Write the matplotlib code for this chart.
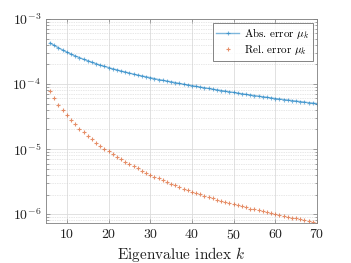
import numpy as np
import matplotlib
matplotlib.use("Agg")
import matplotlib.pyplot as plt
from matplotlib.ticker import LogLocator, NullFormatter, MultipleLocator

plt.rcParams['font.family'] = 'serif'
plt.rcParams['font.serif'] = ['cmr10']
plt.rcParams['mathtext.fontset'] = 'cm'
plt.rcParams['axes.formatter.use_mathtext'] = True
plt.rcParams['axes.unicode_minus'] = False

k = list(range(6, 71))

abs_err = [4.27e-4, 3.91e-4, 3.60e-4, 3.33e-4, 3.09e-4, 2.88e-4, 2.70e-4, 2.55e-4, 2.40e-4, 2.28e-4,
           2.16e-4, 2.05e-4, 1.95e-4, 1.87e-4, 1.79e-4, 1.71e-4, 1.65e-4, 1.58e-4, 1.53e-4, 1.47e-4,
           1.42e-4, 1.37e-4, 1.33e-4, 1.29e-4, 1.25e-4, 1.21e-4, 1.17e-4, 1.14e-4, 1.11e-4, 1.08e-4,
           1.05e-4, 1.02e-4, 9.93e-5, 9.68e-5, 9.44e-5, 9.20e-5, 8.97e-5, 8.75e-5, 8.53e-5, 8.32e-5,
           8.13e-5, 7.94e-5, 7.76e-5, 7.59e-5, 7.41e-5, 7.24e-5, 7.08e-5, 6.92e-5, 6.78e-5, 6.64e-5,
           6.50e-5, 6.37e-5, 6.24e-5, 6.11e-5, 5.98e-5, 5.87e-5, 5.77e-5, 5.66e-5, 5.56e-5, 5.46e-5,
           5.36e-5, 5.26e-5, 5.16e-5, 5.08e-5, 5.00e-5]

rel_err = [7.80e-5, 6.03e-5, 4.84e-5, 3.98e-5, 3.33e-5, 2.81e-5, 2.40e-5, 2.07e-5, 1.81e-5, 1.59e-5,
           1.41e-5, 1.25e-5, 1.12e-5, 1.01e-5, 9.18e-6, 8.36e-6, 7.64e-6, 7.00e-6, 6.43e-6, 5.92e-6,
           5.46e-6, 5.05e-6, 4.68e-6, 4.35e-6, 4.05e-6, 3.78e-6, 3.53e-6, 3.31e-6, 3.11e-6, 2.93e-6,
           2.76e-6, 2.61e-6, 2.47e-6, 2.34e-6, 2.22e-6, 2.11e-6, 2.01e-6, 1.92e-6, 1.83e-6, 1.75e-6,
           1.67e-6, 1.60e-6, 1.54e-6, 1.48e-6, 1.42e-6, 1.36e-6, 1.32e-6, 1.27e-6, 1.22e-6, 1.18e-6,
           1.14e-6, 1.10e-6, 1.07e-6, 1.03e-6, 1.00e-6, 9.68e-7, 9.40e-7, 9.12e-7, 8.85e-7, 8.59e-7,
           8.34e-7, 8.09e-7, 7.85e-7, 7.62e-7, 7.40e-7]

blue = '#0072BD'
orange = '#D95319'

fig = plt.figure(figsize=(3.51, 2.63), dpi=100)
ax = fig.add_axes([0.131, 0.152, 0.772, 0.776])

ax.semilogy(k, abs_err, color=blue, lw=1.0, alpha=0.5, marker='+', ms=3.5, mew=0.8,
            mec=blue, label=r'Abs. error $\mu_k$')
ax.semilogy(k, rel_err, ls='none', marker='+', ms=3.5, mew=0.8, color=orange, alpha=0.65,
            label=r'Rel. error $\mu_k$')

ax.set_xlim(5, 70)
ax.set_ylim(7.3e-7, 1e-3)
ax.xaxis.set_major_locator(MultipleLocator(10))
ax.yaxis.set_major_locator(LogLocator(base=10, numticks=10))
ax.yaxis.set_minor_locator(LogLocator(base=10, subs=np.arange(2, 10), numticks=10))
ax.yaxis.set_minor_formatter(NullFormatter())

ax.grid(which='major', color='#dcdcdc', lw=0.6, ls='-')
ax.grid(which='minor', axis='y', color='#d0d0d0', lw=0.5, ls=(0, (1, 1.5)))
ax.set_axisbelow(True)

for s in ax.spines.values():
    s.set_color('#7f7f7f')
    s.set_linewidth(0.6)
ax.tick_params(which='both', direction='in', top=True, right=True, color='#7f7f7f',
               labelsize=10, labelcolor='#222222', width=0.5)
ax.tick_params(which='major', length=3)
ax.tick_params(which='minor', length=1.8)

ax.set_xlabel(r'Eigenvalue index $k$', fontsize=11, color='#222222', labelpad=2)

leg = ax.legend(loc='upper right', fontsize=8, frameon=True, fancybox=False,
                edgecolor='#4d4d4d', borderpad=0.3, handlelength=2.0, handletextpad=0.5,
                labelspacing=0.2, borderaxespad=0.35)
leg.get_frame().set_linewidth(0.6)

fig.savefig('out.png', dpi=100)
